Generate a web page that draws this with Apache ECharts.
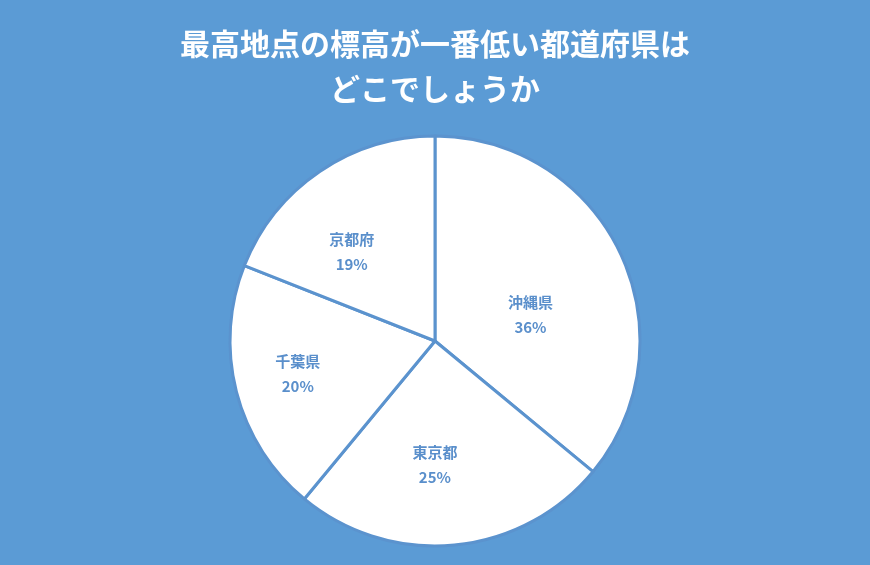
<!DOCTYPE html>
<html><head><meta charset="utf-8">
<script src="https://cdn.jsdelivr.net/npm/echarts@6/dist/echarts.min.js"></script>
<style>html,body{margin:0;padding:0;background:#5B9BD5;}#c{width:870px;height:565px;}</style>
</head><body><div id="c"></div>
<script>
const titleText = '最高地点の標高が一番低い都道府県は\nどこでしょうか';
const categories = ['沖縄県', '東京都', '千葉県', '京都府'];
const values = [36, 25, 20, 19];
// label nudges (style only)
const labelOffsets = [[0, 19], [-10, 19], [-35, 7], [-24, -2]];

const chart = echarts.init(document.getElementById('c'));
chart.setOption({
  backgroundColor: '#5B9BD5',
  title: {
    text: titleText,
    left: 'center',
    top: 16,
    textStyle: {
      color: '#ffffff',
      fontSize: 30,
      fontWeight: 'bold',
      lineHeight: 45,
      fontFamily: '"Noto Sans CJK JP", sans-serif'
    }
  },
  series: [{
    type: 'pie',
    center: [435, 341],
    radius: [0, 205],
    startAngle: 90,
    clockwise: true,
    animation: false,
    data: categories.map((c, i) => ({ name: c, value: values[i], label: { offset: labelOffsets[i] } })),
    itemStyle: {
      color: '#ffffff',
      borderColor: '#5B93CE',
      borderWidth: 3
    },
    label: {
      position: 'inside',
      formatter: p => p.name + '\n' + p.value + '%',
      color: '#5A8FCB',
      fontSize: 15,
      fontWeight: 'bold',
      lineHeight: 25,
      fontFamily: '"Noto Sans CJK JP", sans-serif'
    },
    labelLine: { show: false },
    emphasis: { disabled: true }
  }]
});
</script></body></html>
